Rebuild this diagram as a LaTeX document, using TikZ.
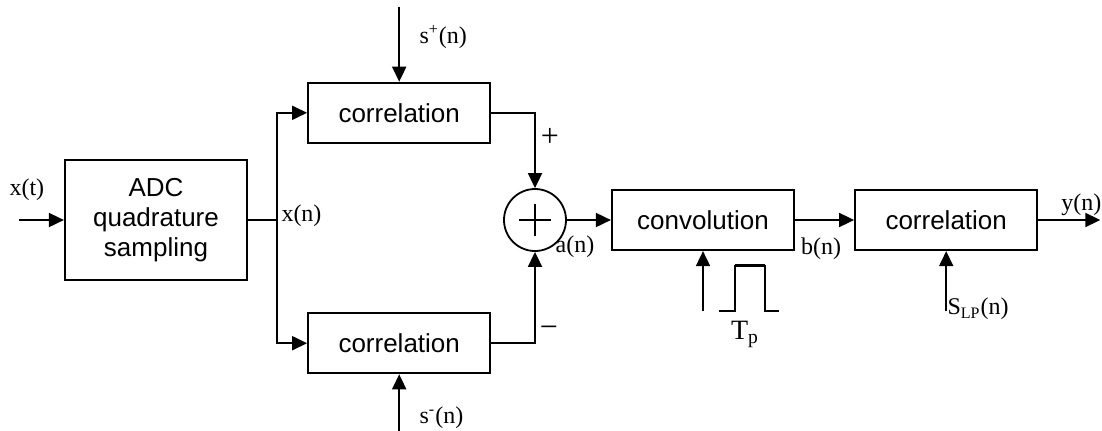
\documentclass[tikz,border=0pt]{standalone}
\usepackage{fontspec}
\setmainfont{Liberation Serif}
\setsansfont{Liberation Sans}
\usetikzlibrary{arrows.meta,positioning}

\begin{document}
\begin{tikzpicture}[
    node distance=15pt and 30pt,
    every node/.style={align=center},
    block/.style={rectangle, draw, line width=1.1pt, minimum width=91pt, minimum height=30pt, inner sep=0pt, font=\sffamily\fontsize{13}{15}\selectfont},
    sumnode/.style={circle, draw, line width=0.9pt, minimum size=31pt, inner sep=0pt},
    lbl/.style={inner sep=0pt, font=\fontsize{12}{14}\selectfont},
    sign/.style={inner sep=0pt, font=\fontsize{16}{18}\selectfont},
    arrow/.style={-{Triangle[length=7.5pt,width=7pt]}, line width=0.9pt},
    wire/.style={line width=0.9pt}
]
    \useasboundingbox (0,0) rectangle (551pt,-215pt);

    % blocks
    \node[block, minimum height=60pt] (adc) at (78pt,-110pt) {ADC\\quadrature\\sampling};
    \node[block, above right=7.5pt and 29.5pt of adc] (corrup) {correlation};
    \node[block, below right=15.5pt and 29.5pt of adc] (corrlow) {correlation};
    \node[sumnode, right=127.5pt of adc] (sum) {};
    \node[block, right=22pt of sum] (conv) {convolution};
    \node[block, right=29.5pt of conv] (corrout) {correlation};

    % free ends
    \coordinate[left=22.5pt of adc] (xin);
    \coordinate[right=14.5pt of adc] (branch);
    \coordinate[above=37.5pt of corrup] (splus);
    \coordinate[below=29pt of corrlow] (sminus);
    \coordinate[below=30pt of conv] (pin);
    \coordinate[below=30pt of corrout] (slp);
    \coordinate[right=31pt of corrout] (yout);

    % connectors
    \draw[arrow] (xin) -- (adc);
    \draw[wire] (adc) -- (branch);
    \draw[arrow] (branch) |- (corrup);
    \draw[arrow] (branch) |- (corrlow);
    \draw[arrow] (splus) -- (corrup);
    \draw[arrow] (sminus) -- (corrlow);
    \draw[arrow] (corrup) -| (sum);
    \draw[arrow] (corrlow) -| (sum);
    \draw[arrow] (sum) -- (conv);
    \draw[arrow] (conv) -- (corrout);
    \draw[arrow] (pin) -- (conv);
    \draw[arrow] (slp) -- (corrout);
    \draw[arrow] (corrout) -- (yout);

    % plus sign and pulse
    \draw[wire] ([xshift=-8pt]sum.center) -- ([xshift=8pt]sum.center)
        ([yshift=-8pt]sum.center) -- ([yshift=8pt]sum.center);
    \draw[wire] ([xshift=8pt]pin) -- ++(8pt,0) -- ++(0,23pt) ++(15pt,0) -- ++(0,-23pt) -- ++(7pt,0);
    \draw[line width=1.6pt] ([xshift=16pt,yshift=23pt]pin) -- ++(15pt,0);

    % labels
    \node[lbl] (xtlbl) at ([xshift=4pt,yshift=15pt]xin) {x(t)};
    \node[lbl, anchor=west] (xnlbl) at ([xshift=2pt,yshift=2pt]branch) {x(n)};
    \node[lbl, anchor=west] (splbl) at ([xshift=10pt,yshift=-15pt]splus) {s\textsuperscript{+}(n)};
    \node[lbl, anchor=west] (smlbl) at ([xshift=10pt,yshift=7.5pt]sminus) {s\textsuperscript{-}(n)};
    \node[sign] (pluslbl) at ([xshift=7.5pt,yshift=25.5pt]sum.north) {+};
    \node[sign] (minuslbl) at ([xshift=7pt,yshift=-40pt]sum.south) {−};
    \node[lbl] (anlbl) at ([xshift=20pt,yshift=-13.5pt]sum.center) {a(n)};
    \node[lbl] (bnlbl) at ([xshift=13pt,yshift=1pt]conv.south east) {b(n)};
    \node[lbl] (ynlbl) at ([xshift=21.5pt,yshift=7.5pt]corrout.east) {y(n)};
    \node[lbl, anchor=west] (slplbl) at ([xshift=0.5pt,yshift=1pt]slp) {S\textsubscript{LP}(n)};
    \node[lbl, font=\fontsize{14}{16}\selectfont] (tplbl) at ([xshift=21pt,yshift=-11.5pt]pin) {T\textsubscript{p}};
\end{tikzpicture}
\end{document}
